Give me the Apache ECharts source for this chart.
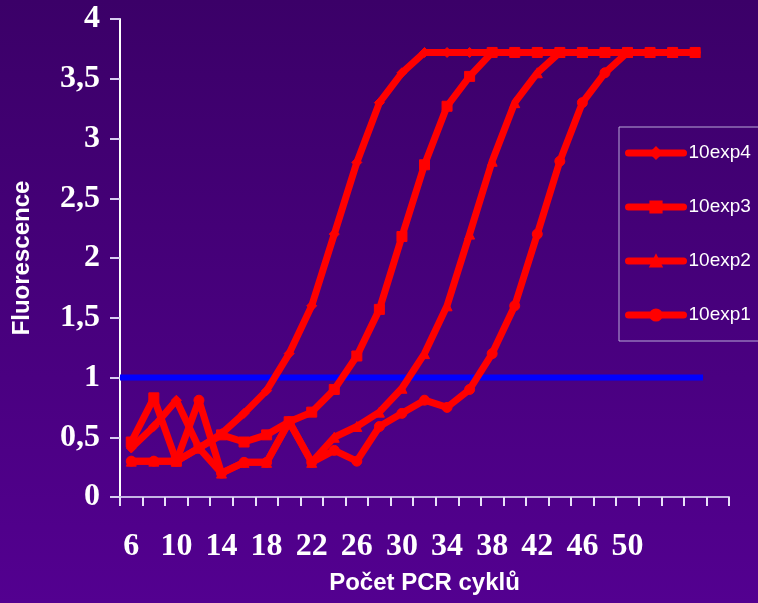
<!DOCTYPE html>
<html>
<head>
<meta charset="utf-8">
<script src="https://cdn.jsdelivr.net/npm/echarts@6/dist/echarts.min.js"></script>
<style>
  html, body { margin: 0; padding: 0; }
  #chart { width: 758px; height: 603px; }
</style>
</head>
<body>
<div id="chart"></div>
<script>
// PCR cycle numbers on the category axis (labels after 50 are left blank)
const cycles = ['6','8','10','12','14','16','18','20','22','24','26','28','30','32','34',
                '36','38','40','42','44','46','48','50','','','',''];

// Fluorescence readings per cycle for each dilution
const exp4 = [0.41, 0.59, 0.81, 0.41, 0.53, 0.70, 0.89, 1.20, 1.60, 2.20, 2.80, 3.30, 3.55, 3.72,
              3.72, 3.72, 3.72, 3.72, 3.72, 3.72, 3.72, 3.72, 3.72, 3.72, 3.72, 3.72];
const exp3 = [0.46, 0.83, 0.30, 0.41, 0.52, 0.46, 0.52, 0.63, 0.71, 0.90, 1.18, 1.57, 2.18, 2.78,
              3.27, 3.52, 3.72, 3.72, 3.72, 3.72, 3.72, 3.72, 3.72, 3.72, 3.72, 3.72];
const exp2 = [0.30, 0.30, 0.30, 0.41, 0.20, 0.29, 0.29, 0.63, 0.29, 0.50, 0.59, 0.71, 0.91, 1.20,
              1.60, 2.20, 2.81, 3.30, 3.55, 3.72, 3.72, 3.72, 3.72, 3.72, 3.72, 3.72];
const exp1 = [0.30, 0.30, 0.30, 0.81, 0.20, 0.29, 0.29, 0.63, 0.29, 0.39, 0.30, 0.59, 0.70, 0.81,
              0.75, 0.90, 1.20, 1.60, 2.20, 2.81, 3.30, 3.55, 3.72, 3.72, 3.72, 3.72];

const seriesNames = ['10exp4', '10exp3', '10exp2', '10exp1'];
const seriesData = [exp4, exp3, exp2, exp1];
const seriesSymbols = ['diamond', 'rect', 'triangle', 'circle'];

// Detection threshold and the stretch of cycles it spans (in category widths)
const threshold = 1;
const thresholdSpan = [0, 25.85];

// Y axis range
const yMin = 0, yMax = 4, yStep = 0.5;

const chart = echarts.init(document.getElementById('chart'), null, { renderer: 'canvas' });

const lines = seriesNames.map((name, k) => ({
  name: name,
  type: 'line',
  data: seriesData[k],
  xAxisIndex: 0,
  yAxisIndex: 0,
  symbol: seriesSymbols[k],
  symbolSize: 10,
  showAllSymbol: true,
  lineStyle: { color: '#ff0000', width: 7, cap: 'round', join: 'round' },
  itemStyle: { color: '#ff0000', borderColor: '#ff0000', borderWidth: 1 },
  z: 3
}));

lines.push({
  name: 'threshold',
  type: 'line',
  xAxisIndex: 1,
  yAxisIndex: 0,
  data: thresholdSpan.map(x => [x, threshold]),
  symbol: 'none',
  lineStyle: { color: '#0000ff', width: 6 },
  z: 2,
  silent: true
});

chart.setOption({
  animation: false,
  backgroundColor: new echarts.graphic.LinearGradient(0, 0, 0, 1, [
    { offset: 0, color: '#3b0068' },
    { offset: 1, color: '#530090' }
  ]),
  grid: { left: 120, right: 29, top: 19, bottom: 106, containLabel: false, outerBoundsMode: 'none' },
  legend: {
    data: seriesNames,
    orient: 'vertical',
    left: 619,
    top: 127,
    padding: [16, 30, 16, 6],
    itemGap: 34,
    itemWidth: 55,
    itemHeight: 14,
    borderColor: '#b8a8d8',
    borderWidth: 1,
    lineStyle: { width: 7, color: '#ff0000' },
    textStyle: { color: '#ffffff', fontFamily: 'Liberation Sans, Arial, sans-serif', fontSize: 19, lineHeight: 20 }
  },
  xAxis: [{
    type: 'category',
    data: cycles,
    boundaryGap: true,
    name: 'Počet PCR cyklů',
    nameLocation: 'middle',
    nameGap: 74,
    nameTextStyle: { color: '#ffffff', fontFamily: 'Liberation Sans, Arial, sans-serif', fontWeight: 'bold', fontSize: 24 },
    axisLine: { lineStyle: { color: '#c4b4e4', width: 2 } },
    axisTick: { show: true, interval: 0, length: 9, lineStyle: { color: '#e8e0f8', width: 2 } },
    axisLabel: { interval: 1, color: '#ffffff', margin: 34, fontFamily: 'Liberation Serif, Times New Roman, serif', fontWeight: 'bold', fontSize: 32 },
    splitLine: { show: false }
  }, {
    type: 'value',
    min: 0,
    max: cycles.length,
    show: false
  }],
  yAxis: {
    type: 'value',
    min: yMin,
    max: yMax,
    interval: yStep,
    name: 'Fluorescence',
    nameLocation: 'middle',
    nameGap: 86,
    nameRotate: 90,
    nameTextStyle: { color: '#ffffff', fontFamily: 'Liberation Sans, Arial, sans-serif', fontWeight: 'bold', fontSize: 24 },
    axisLine: { show: true, lineStyle: { color: '#ffffff', width: 2 } },
    axisTick: { show: true, length: 10, lineStyle: { color: '#d8cef0', width: 2 } },
    axisLabel: {
      color: '#ffffff', margin: 20,
      fontFamily: 'Liberation Serif, Times New Roman, serif', fontWeight: 'bold', fontSize: 32,
      formatter: v => String(v).replace('.', ',')
    },
    splitLine: { show: false }
  },
  series: lines
});
</script>
</body>
</html>
